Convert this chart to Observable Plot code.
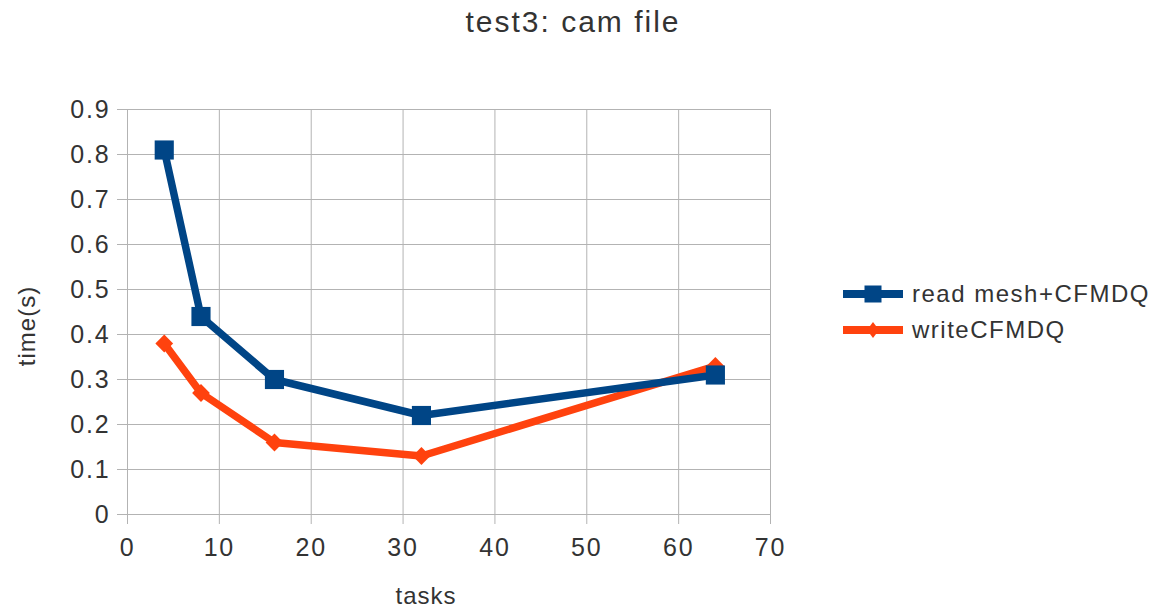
<!DOCTYPE html>
<html>
<head>
<meta charset="utf-8">
<script src="https://cdn.jsdelivr.net/npm/d3@7"></script>
<script src="https://cdn.jsdelivr.net/npm/@observablehq/plot@0.6"></script>
<style>
  html, body { margin: 0; padding: 0; background: #fff; }
  #chart { position: relative; width: 1156px; height: 609px; font-family: "Liberation Sans", Arial, sans-serif; color: #333; }
  #chart svg text { letter-spacing: 1.8px; }
  .lbl { position: absolute; white-space: nowrap; color: #333; line-height: 1; }
  #title { left: 0; width: 1146px; top: 7px; text-align: center; font-size: 30px; letter-spacing: 2px; }
  #xlabel { left: 326px; width: 200px; top: 584px; text-align: center; font-size: 24px; letter-spacing: 1px; }
  #ylabel { left: -73px; width: 200px; top: 314px; text-align: center; font-size: 24px; letter-spacing: 1px; transform: rotate(-90deg); }
  #legend { position: absolute; left: 843px; top: 276px; }
  .row { display: flex; align-items: center; height: 36px; }
  .row span { font-size: 24px; letter-spacing: 1.5px; margin-left: 9px; color: #333; }
</style>
</head>
<body>
<div id="chart">
  <div id="title" class="lbl">test3: cam file</div>
  <div id="ylabel" class="lbl">time(s)</div>
  <div id="xlabel" class="lbl">tasks</div>
  <div id="legend"></div>
</div>
<script>
// Task counts and timings (seconds) for the two phases
const tasks = [4, 8, 16, 32, 64];
const readMesh = [0.81, 0.44, 0.30, 0.22, 0.31];
const writeCFMDQ = [0.38, 0.27, 0.16, 0.13, 0.33];
const seriesNames = ["read mesh+CFMDQ", "writeCFMDQ"];
const seriesColors = ["#004586", "#ff420e"];

// Axis ticks
const xTicks = [0, 10, 20, 30, 40, 50, 60, 70];
const yTicks = [0, 0.1, 0.2, 0.3, 0.4, 0.5, 0.6, 0.7, 0.8, 0.9];

const readData = tasks.map((t, i) => ({tasks: t, time: readMesh[i]}));
const writeData = tasks.map((t, i) => ({tasks: t, time: writeCFMDQ[i]}));

const gridColor = "#b3b3b3";

const plot = Plot.plot({
  width: 1156,
  height: 609,
  marginTop: 109,
  marginBottom: 95,
  marginLeft: 127,
  marginRight: 386,
  style: {fontFamily: "'Liberation Sans', Arial, sans-serif", fontSize: "25px", color: "#333", background: "transparent"},
  x: {domain: [0, 70]},
  y: {domain: [0, 0.9]},
  marks: [
    Plot.ruleX(xTicks, {x: d => d, stroke: gridColor, strokeWidth: 1}),
    Plot.ruleY(yTicks, {y: d => d, stroke: gridColor, strokeWidth: 1}),
    Plot.axisX({ticks: xTicks, tickSize: 10, tickPadding: 14, stroke: gridColor, fill: "#333", label: null, tickFormat: d => String(d)}),
    Plot.axisY({ticks: yTicks, tickSize: 10, tickPadding: 7, stroke: gridColor, fill: "#333", label: null, tickFormat: d => String(d)}),
    // writeCFMDQ series (drawn first, underneath)
    Plot.line(writeData, {x: "tasks", y: "time", stroke: seriesColors[1], strokeWidth: 7.5, strokeLinejoin: "miter"}),
    Plot.dot(writeData, {x: "tasks", y: "time", symbol: "diamond2", r: 8, fill: seriesColors[1], stroke: "none"}),
    // read mesh+CFMDQ series
    Plot.line(readData, {x: "tasks", y: "time", stroke: seriesColors[0], strokeWidth: 7.5, strokeLinejoin: "miter"}),
    Plot.dot(readData, {x: "tasks", y: "time", symbol: "square", r: 10.8, fill: seriesColors[0], stroke: "none"})
  ]
});
document.getElementById("chart").appendChild(plot);

// Legend: line swatch with the series marker
const legend = document.getElementById("legend");
const symbols = ["square", "diamond"];
seriesNames.forEach((name, i) => {
  const row = document.createElement("div");
  row.className = "row";
  const c = seriesColors[i];
  const marker = symbols[i] === "square"
    ? `<rect x="21.5" y="4.5" width="17" height="17" fill="${c}"/>`
    : `<polygon points="30,5 36,13 30,21 24,13" fill="${c}"/>`;
  row.innerHTML = `<svg width="60" height="26" viewBox="0 0 60 26"><rect x="0" y="9" width="60" height="8" fill="${c}"/>${marker}</svg><span>${name}</span>`;
  legend.appendChild(row);
});
</script>
</body>
</html>
